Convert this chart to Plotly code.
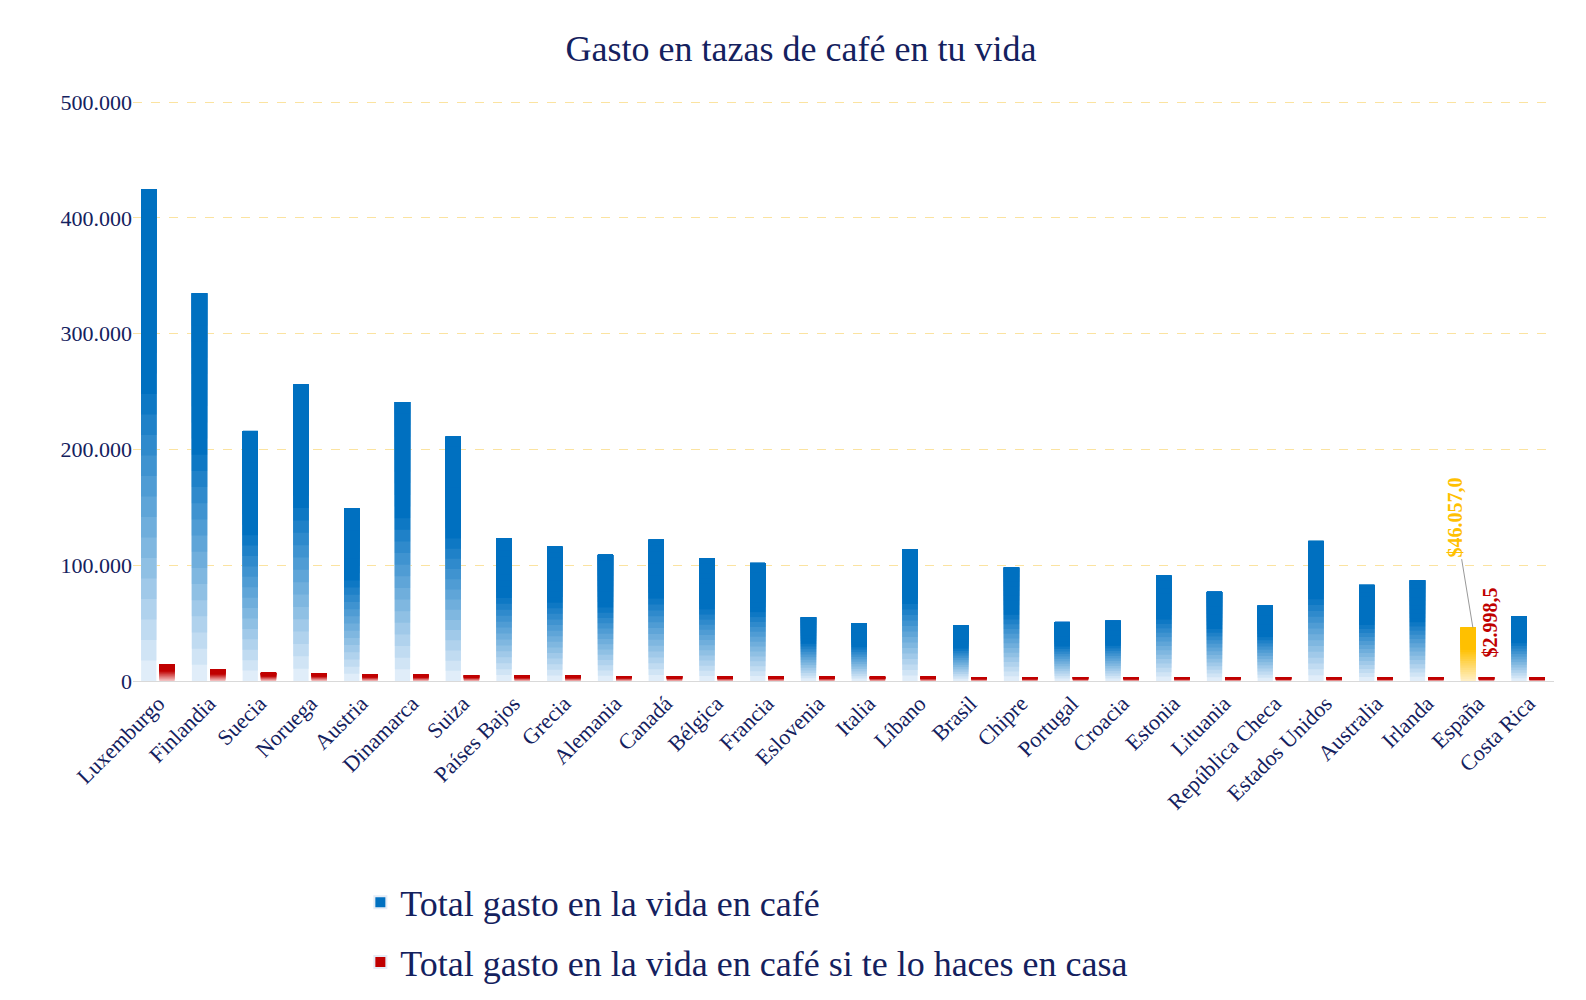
import plotly.graph_objects as go

paises = ["Luxemburgo", "Finlandia", "Suecia", "Noruega", "Austria", "Dinamarca", "Suiza",
          "Países Bajos", "Grecia", "Alemania", "Canadá", "Bélgica", "Francia", "Eslovenia",
          "Italia", "Líbano", "Brasil", "Chipre", "Portugal", "Croacia", "Estonia", "Lituania",
          "República Checa", "Estados Unidos", "Australia", "Irlanda", "España", "Costa Rica"]
gasto_cafe = [425000, 335000, 216000, 256000, 149000, 241000, 211000, 123000, 116000, 109000,
              122000, 106000, 102000, 55000, 50000, 114000, 48000, 98000, 51000, 52000,
              91000, 77000, 65000, 121000, 83000, 87000, 46057.0, 56000]
gasto_casa = [14500, 10000, 7000, 6800, 5500, 5300, 4800, 4600, 4400, 4200, 4100, 4000, 3800,
              3700, 3600, 3500, 3400, 3300, 3300, 3200, 3200, 3100, 3100, 3000, 3000, 3000,
              2998.5, 2800]

FONT = "Palatino Linotype, Book Antiqua, Liberation Serif, serif"
NAVY = "#14215e"
N = 24


def mix(c1, c2, t):
    return "rgb(%d,%d,%d)" % tuple(round(a + (b - a) * t) for a, b in zip(c1, c2))


def add_gradient(fig, values, top_rgb, bottom_rgb, offset, name, highlight=None):
    # each level runs from its start to the top of the bar, later levels cover earlier ones
    for k in range(N):
        t = min(1.0, (k + 0.5) / (N * 0.6))
        cols = []
        for p in paises:
            if highlight and p in highlight:
                cols.append(mix(highlight[p][1], highlight[p][0], t))
            else:
                cols.append(mix(bottom_rgb, top_rgb, t))
        fig.add_trace(go.Bar(
            x=paises, y=[v * (N - k) / N for v in values], base=[v * k / N for v in values],
            offset=offset, width=0.3, marker=dict(color=cols, line=dict(width=0)),
            name=name, legendgroup=name, showlegend=False, hoverinfo="skip"))
    fig.add_trace(go.Bar(x=[None], y=[None], name=name, legendgroup=name,
                         marker=dict(color=mix(bottom_rgb, top_rgb, 1.0))))


fig = go.Figure()
add_gradient(fig, gasto_cafe, (0, 112, 192), (232, 242, 251), -0.34, "Total gasto en la vida en café",
             highlight={"España": ((255, 192, 0), (255, 240, 200))})
add_gradient(fig, gasto_casa, (192, 0, 0), (245, 200, 200), 0.02,
             "Total gasto en la vida en café si te lo haces en casa")

fig.add_annotation(x="España", y=46057, text="<b>$46.057,0</b>", textangle=-90, showarrow=True,
                   arrowhead=0, arrowcolor="#999999", arrowwidth=1, ax=-18, ay=-110,
                   xshift=-5, font=dict(color="#ffc000", size=20, family=FONT))
fig.add_annotation(x="España", y=2998.5, text="<b>$2.998,5</b>", textangle=-90, showarrow=False,
                   xshift=12, yshift=55, font=dict(color="#c00000", size=20, family=FONT))

fig.update_layout(
    width=1586, height=1000, barmode="overlay",
    plot_bgcolor="white", paper_bgcolor="white",
    separators=",.",
    font=dict(family=FONT, color=NAVY),
    title=dict(text="Gasto en tazas de café en tu vida", x=0.5, y=0.96, yanchor="middle",
               font=dict(size=36, color=NAVY)),
    margin=dict(l=125, r=40, t=93, b=327),
    xaxis=dict(tickangle=-45, tickfont=dict(size=22), showline=True, linecolor="#d9d9d9",
               ticks=""),
    yaxis=dict(range=[0, 501000], tickvals=[0, 100000, 200000, 300000, 400000, 500000],
               tickprefix="$", tickformat=",d",
               tickfont=dict(size=22), gridcolor="#fbe3a0", griddash="dash", zeroline=False),
    legend=dict(x=0.16, y=-0.33, yanchor="top", xanchor="left", font=dict(size=36),
                itemsizing="constant", tracegroupgap=10),
    bargap=0.2,
)

fig.write_html("out.html")
